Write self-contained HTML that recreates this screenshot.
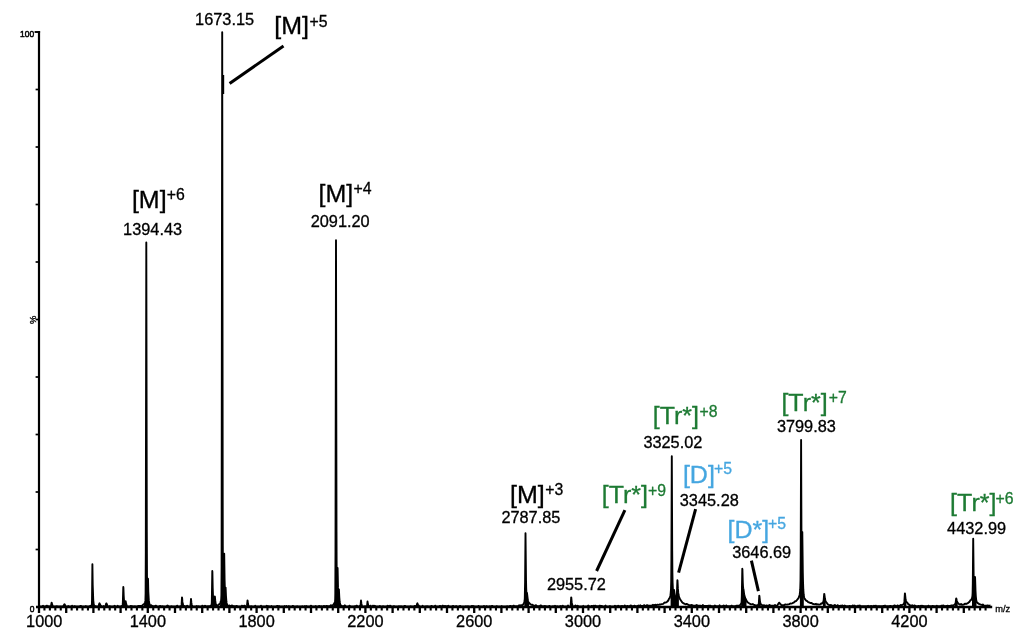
<!DOCTYPE html>
<html><head><meta charset="utf-8"><title>Mass spectrum</title>
<style>
html,body{margin:0;padding:0;background:#fff;}
svg{display:block;font-family:"Liberation Sans",sans-serif;}
</style></head><body>
<svg width="1024" height="643" viewBox="0 0 1024 643">
<rect width="1024" height="643" fill="#fff"/>
<g stroke="#000" fill="none">
<line x1="39" y1="31.1" x2="39" y2="608" stroke-width="2.2"/>
<line x1="34.6" y1="32" x2="40.1" y2="32" stroke-width="1.9"/>
<line x1="36" y1="607" x2="992.2" y2="607" stroke-width="2.3"/>
<line x1="39.00" y1="607.0" x2="39.00" y2="613.0" stroke-width="2.3"/>
<line x1="44.44" y1="607.0" x2="44.44" y2="610.5" stroke-width="2.1"/>
<line x1="49.88" y1="607.0" x2="49.88" y2="610.5" stroke-width="2.1"/>
<line x1="55.32" y1="607.0" x2="55.32" y2="610.5" stroke-width="2.1"/>
<line x1="60.76" y1="607.0" x2="60.76" y2="610.5" stroke-width="2.1"/>
<line x1="66.20" y1="607.0" x2="66.20" y2="613.0" stroke-width="2.3"/>
<line x1="71.64" y1="607.0" x2="71.64" y2="610.5" stroke-width="2.1"/>
<line x1="77.08" y1="607.0" x2="77.08" y2="610.5" stroke-width="2.1"/>
<line x1="82.52" y1="607.0" x2="82.52" y2="610.5" stroke-width="2.1"/>
<line x1="87.96" y1="607.0" x2="87.96" y2="610.5" stroke-width="2.1"/>
<line x1="93.40" y1="607.0" x2="93.40" y2="613.0" stroke-width="2.3"/>
<line x1="98.84" y1="607.0" x2="98.84" y2="610.5" stroke-width="2.1"/>
<line x1="104.28" y1="607.0" x2="104.28" y2="610.5" stroke-width="2.1"/>
<line x1="109.72" y1="607.0" x2="109.72" y2="610.5" stroke-width="2.1"/>
<line x1="115.16" y1="607.0" x2="115.16" y2="610.5" stroke-width="2.1"/>
<line x1="120.60" y1="607.0" x2="120.60" y2="613.0" stroke-width="2.3"/>
<line x1="126.04" y1="607.0" x2="126.04" y2="610.5" stroke-width="2.1"/>
<line x1="131.48" y1="607.0" x2="131.48" y2="610.5" stroke-width="2.1"/>
<line x1="136.92" y1="607.0" x2="136.92" y2="610.5" stroke-width="2.1"/>
<line x1="142.36" y1="607.0" x2="142.36" y2="610.5" stroke-width="2.1"/>
<line x1="147.80" y1="607.0" x2="147.80" y2="613.0" stroke-width="2.3"/>
<line x1="153.24" y1="607.0" x2="153.24" y2="610.5" stroke-width="2.1"/>
<line x1="158.68" y1="607.0" x2="158.68" y2="610.5" stroke-width="2.1"/>
<line x1="164.12" y1="607.0" x2="164.12" y2="610.5" stroke-width="2.1"/>
<line x1="169.56" y1="607.0" x2="169.56" y2="610.5" stroke-width="2.1"/>
<line x1="175.00" y1="607.0" x2="175.00" y2="613.0" stroke-width="2.3"/>
<line x1="180.44" y1="607.0" x2="180.44" y2="610.5" stroke-width="2.1"/>
<line x1="185.88" y1="607.0" x2="185.88" y2="610.5" stroke-width="2.1"/>
<line x1="191.32" y1="607.0" x2="191.32" y2="610.5" stroke-width="2.1"/>
<line x1="196.76" y1="607.0" x2="196.76" y2="610.5" stroke-width="2.1"/>
<line x1="202.20" y1="607.0" x2="202.20" y2="613.0" stroke-width="2.3"/>
<line x1="207.64" y1="607.0" x2="207.64" y2="610.5" stroke-width="2.1"/>
<line x1="213.08" y1="607.0" x2="213.08" y2="610.5" stroke-width="2.1"/>
<line x1="218.52" y1="607.0" x2="218.52" y2="610.5" stroke-width="2.1"/>
<line x1="223.96" y1="607.0" x2="223.96" y2="610.5" stroke-width="2.1"/>
<line x1="229.40" y1="607.0" x2="229.40" y2="613.0" stroke-width="2.3"/>
<line x1="234.84" y1="607.0" x2="234.84" y2="610.5" stroke-width="2.1"/>
<line x1="240.28" y1="607.0" x2="240.28" y2="610.5" stroke-width="2.1"/>
<line x1="245.72" y1="607.0" x2="245.72" y2="610.5" stroke-width="2.1"/>
<line x1="251.16" y1="607.0" x2="251.16" y2="610.5" stroke-width="2.1"/>
<line x1="256.60" y1="607.0" x2="256.60" y2="613.0" stroke-width="2.3"/>
<line x1="262.04" y1="607.0" x2="262.04" y2="610.5" stroke-width="2.1"/>
<line x1="267.48" y1="607.0" x2="267.48" y2="610.5" stroke-width="2.1"/>
<line x1="272.92" y1="607.0" x2="272.92" y2="610.5" stroke-width="2.1"/>
<line x1="278.36" y1="607.0" x2="278.36" y2="610.5" stroke-width="2.1"/>
<line x1="283.80" y1="607.0" x2="283.80" y2="613.0" stroke-width="2.3"/>
<line x1="289.24" y1="607.0" x2="289.24" y2="610.5" stroke-width="2.1"/>
<line x1="294.68" y1="607.0" x2="294.68" y2="610.5" stroke-width="2.1"/>
<line x1="300.12" y1="607.0" x2="300.12" y2="610.5" stroke-width="2.1"/>
<line x1="305.56" y1="607.0" x2="305.56" y2="610.5" stroke-width="2.1"/>
<line x1="311.00" y1="607.0" x2="311.00" y2="613.0" stroke-width="2.3"/>
<line x1="316.44" y1="607.0" x2="316.44" y2="610.5" stroke-width="2.1"/>
<line x1="321.88" y1="607.0" x2="321.88" y2="610.5" stroke-width="2.1"/>
<line x1="327.32" y1="607.0" x2="327.32" y2="610.5" stroke-width="2.1"/>
<line x1="332.76" y1="607.0" x2="332.76" y2="610.5" stroke-width="2.1"/>
<line x1="338.20" y1="607.0" x2="338.20" y2="613.0" stroke-width="2.3"/>
<line x1="343.64" y1="607.0" x2="343.64" y2="610.5" stroke-width="2.1"/>
<line x1="349.08" y1="607.0" x2="349.08" y2="610.5" stroke-width="2.1"/>
<line x1="354.52" y1="607.0" x2="354.52" y2="610.5" stroke-width="2.1"/>
<line x1="359.96" y1="607.0" x2="359.96" y2="610.5" stroke-width="2.1"/>
<line x1="365.40" y1="607.0" x2="365.40" y2="613.0" stroke-width="2.3"/>
<line x1="370.84" y1="607.0" x2="370.84" y2="610.5" stroke-width="2.1"/>
<line x1="376.28" y1="607.0" x2="376.28" y2="610.5" stroke-width="2.1"/>
<line x1="381.72" y1="607.0" x2="381.72" y2="610.5" stroke-width="2.1"/>
<line x1="387.16" y1="607.0" x2="387.16" y2="610.5" stroke-width="2.1"/>
<line x1="392.60" y1="607.0" x2="392.60" y2="613.0" stroke-width="2.3"/>
<line x1="398.04" y1="607.0" x2="398.04" y2="610.5" stroke-width="2.1"/>
<line x1="403.48" y1="607.0" x2="403.48" y2="610.5" stroke-width="2.1"/>
<line x1="408.92" y1="607.0" x2="408.92" y2="610.5" stroke-width="2.1"/>
<line x1="414.36" y1="607.0" x2="414.36" y2="610.5" stroke-width="2.1"/>
<line x1="419.80" y1="607.0" x2="419.80" y2="613.0" stroke-width="2.3"/>
<line x1="425.24" y1="607.0" x2="425.24" y2="610.5" stroke-width="2.1"/>
<line x1="430.68" y1="607.0" x2="430.68" y2="610.5" stroke-width="2.1"/>
<line x1="436.12" y1="607.0" x2="436.12" y2="610.5" stroke-width="2.1"/>
<line x1="441.56" y1="607.0" x2="441.56" y2="610.5" stroke-width="2.1"/>
<line x1="447.00" y1="607.0" x2="447.00" y2="613.0" stroke-width="2.3"/>
<line x1="452.44" y1="607.0" x2="452.44" y2="610.5" stroke-width="2.1"/>
<line x1="457.88" y1="607.0" x2="457.88" y2="610.5" stroke-width="2.1"/>
<line x1="463.32" y1="607.0" x2="463.32" y2="610.5" stroke-width="2.1"/>
<line x1="468.76" y1="607.0" x2="468.76" y2="610.5" stroke-width="2.1"/>
<line x1="474.20" y1="607.0" x2="474.20" y2="613.0" stroke-width="2.3"/>
<line x1="479.64" y1="607.0" x2="479.64" y2="610.5" stroke-width="2.1"/>
<line x1="485.08" y1="607.0" x2="485.08" y2="610.5" stroke-width="2.1"/>
<line x1="490.52" y1="607.0" x2="490.52" y2="610.5" stroke-width="2.1"/>
<line x1="495.96" y1="607.0" x2="495.96" y2="610.5" stroke-width="2.1"/>
<line x1="501.40" y1="607.0" x2="501.40" y2="613.0" stroke-width="2.3"/>
<line x1="506.84" y1="607.0" x2="506.84" y2="610.5" stroke-width="2.1"/>
<line x1="512.28" y1="607.0" x2="512.28" y2="610.5" stroke-width="2.1"/>
<line x1="517.72" y1="607.0" x2="517.72" y2="610.5" stroke-width="2.1"/>
<line x1="523.16" y1="607.0" x2="523.16" y2="610.5" stroke-width="2.1"/>
<line x1="528.60" y1="607.0" x2="528.60" y2="613.0" stroke-width="2.3"/>
<line x1="534.04" y1="607.0" x2="534.04" y2="610.5" stroke-width="2.1"/>
<line x1="539.48" y1="607.0" x2="539.48" y2="610.5" stroke-width="2.1"/>
<line x1="544.92" y1="607.0" x2="544.92" y2="610.5" stroke-width="2.1"/>
<line x1="550.36" y1="607.0" x2="550.36" y2="610.5" stroke-width="2.1"/>
<line x1="555.80" y1="607.0" x2="555.80" y2="613.0" stroke-width="2.3"/>
<line x1="561.24" y1="607.0" x2="561.24" y2="610.5" stroke-width="2.1"/>
<line x1="566.68" y1="607.0" x2="566.68" y2="610.5" stroke-width="2.1"/>
<line x1="572.12" y1="607.0" x2="572.12" y2="610.5" stroke-width="2.1"/>
<line x1="577.56" y1="607.0" x2="577.56" y2="610.5" stroke-width="2.1"/>
<line x1="583.00" y1="607.0" x2="583.00" y2="613.0" stroke-width="2.3"/>
<line x1="588.44" y1="607.0" x2="588.44" y2="610.5" stroke-width="2.1"/>
<line x1="593.88" y1="607.0" x2="593.88" y2="610.5" stroke-width="2.1"/>
<line x1="599.32" y1="607.0" x2="599.32" y2="610.5" stroke-width="2.1"/>
<line x1="604.76" y1="607.0" x2="604.76" y2="610.5" stroke-width="2.1"/>
<line x1="610.20" y1="607.0" x2="610.20" y2="613.0" stroke-width="2.3"/>
<line x1="615.64" y1="607.0" x2="615.64" y2="610.5" stroke-width="2.1"/>
<line x1="621.08" y1="607.0" x2="621.08" y2="610.5" stroke-width="2.1"/>
<line x1="626.52" y1="607.0" x2="626.52" y2="610.5" stroke-width="2.1"/>
<line x1="631.96" y1="607.0" x2="631.96" y2="610.5" stroke-width="2.1"/>
<line x1="637.40" y1="607.0" x2="637.40" y2="613.0" stroke-width="2.3"/>
<line x1="642.84" y1="607.0" x2="642.84" y2="610.5" stroke-width="2.1"/>
<line x1="648.28" y1="607.0" x2="648.28" y2="610.5" stroke-width="2.1"/>
<line x1="653.72" y1="607.0" x2="653.72" y2="610.5" stroke-width="2.1"/>
<line x1="659.16" y1="607.0" x2="659.16" y2="610.5" stroke-width="2.1"/>
<line x1="664.60" y1="607.0" x2="664.60" y2="613.0" stroke-width="2.3"/>
<line x1="670.04" y1="607.0" x2="670.04" y2="610.5" stroke-width="2.1"/>
<line x1="675.48" y1="607.0" x2="675.48" y2="610.5" stroke-width="2.1"/>
<line x1="680.92" y1="607.0" x2="680.92" y2="610.5" stroke-width="2.1"/>
<line x1="686.36" y1="607.0" x2="686.36" y2="610.5" stroke-width="2.1"/>
<line x1="691.80" y1="607.0" x2="691.80" y2="613.0" stroke-width="2.3"/>
<line x1="697.24" y1="607.0" x2="697.24" y2="610.5" stroke-width="2.1"/>
<line x1="702.68" y1="607.0" x2="702.68" y2="610.5" stroke-width="2.1"/>
<line x1="708.12" y1="607.0" x2="708.12" y2="610.5" stroke-width="2.1"/>
<line x1="713.56" y1="607.0" x2="713.56" y2="610.5" stroke-width="2.1"/>
<line x1="719.00" y1="607.0" x2="719.00" y2="613.0" stroke-width="2.3"/>
<line x1="724.44" y1="607.0" x2="724.44" y2="610.5" stroke-width="2.1"/>
<line x1="729.88" y1="607.0" x2="729.88" y2="610.5" stroke-width="2.1"/>
<line x1="735.32" y1="607.0" x2="735.32" y2="610.5" stroke-width="2.1"/>
<line x1="740.76" y1="607.0" x2="740.76" y2="610.5" stroke-width="2.1"/>
<line x1="746.20" y1="607.0" x2="746.20" y2="613.0" stroke-width="2.3"/>
<line x1="751.64" y1="607.0" x2="751.64" y2="610.5" stroke-width="2.1"/>
<line x1="757.08" y1="607.0" x2="757.08" y2="610.5" stroke-width="2.1"/>
<line x1="762.52" y1="607.0" x2="762.52" y2="610.5" stroke-width="2.1"/>
<line x1="767.96" y1="607.0" x2="767.96" y2="610.5" stroke-width="2.1"/>
<line x1="773.40" y1="607.0" x2="773.40" y2="613.0" stroke-width="2.3"/>
<line x1="778.84" y1="607.0" x2="778.84" y2="610.5" stroke-width="2.1"/>
<line x1="784.28" y1="607.0" x2="784.28" y2="610.5" stroke-width="2.1"/>
<line x1="789.72" y1="607.0" x2="789.72" y2="610.5" stroke-width="2.1"/>
<line x1="795.16" y1="607.0" x2="795.16" y2="610.5" stroke-width="2.1"/>
<line x1="800.60" y1="607.0" x2="800.60" y2="613.0" stroke-width="2.3"/>
<line x1="806.04" y1="607.0" x2="806.04" y2="610.5" stroke-width="2.1"/>
<line x1="811.48" y1="607.0" x2="811.48" y2="610.5" stroke-width="2.1"/>
<line x1="816.92" y1="607.0" x2="816.92" y2="610.5" stroke-width="2.1"/>
<line x1="822.36" y1="607.0" x2="822.36" y2="610.5" stroke-width="2.1"/>
<line x1="827.80" y1="607.0" x2="827.80" y2="613.0" stroke-width="2.3"/>
<line x1="833.24" y1="607.0" x2="833.24" y2="610.5" stroke-width="2.1"/>
<line x1="838.68" y1="607.0" x2="838.68" y2="610.5" stroke-width="2.1"/>
<line x1="844.12" y1="607.0" x2="844.12" y2="610.5" stroke-width="2.1"/>
<line x1="849.56" y1="607.0" x2="849.56" y2="610.5" stroke-width="2.1"/>
<line x1="855.00" y1="607.0" x2="855.00" y2="613.0" stroke-width="2.3"/>
<line x1="860.44" y1="607.0" x2="860.44" y2="610.5" stroke-width="2.1"/>
<line x1="865.88" y1="607.0" x2="865.88" y2="610.5" stroke-width="2.1"/>
<line x1="871.32" y1="607.0" x2="871.32" y2="610.5" stroke-width="2.1"/>
<line x1="876.76" y1="607.0" x2="876.76" y2="610.5" stroke-width="2.1"/>
<line x1="882.20" y1="607.0" x2="882.20" y2="613.0" stroke-width="2.3"/>
<line x1="887.64" y1="607.0" x2="887.64" y2="610.5" stroke-width="2.1"/>
<line x1="893.08" y1="607.0" x2="893.08" y2="610.5" stroke-width="2.1"/>
<line x1="898.52" y1="607.0" x2="898.52" y2="610.5" stroke-width="2.1"/>
<line x1="903.96" y1="607.0" x2="903.96" y2="610.5" stroke-width="2.1"/>
<line x1="909.40" y1="607.0" x2="909.40" y2="613.0" stroke-width="2.3"/>
<line x1="914.84" y1="607.0" x2="914.84" y2="610.5" stroke-width="2.1"/>
<line x1="920.28" y1="607.0" x2="920.28" y2="610.5" stroke-width="2.1"/>
<line x1="925.72" y1="607.0" x2="925.72" y2="610.5" stroke-width="2.1"/>
<line x1="931.16" y1="607.0" x2="931.16" y2="610.5" stroke-width="2.1"/>
<line x1="936.60" y1="607.0" x2="936.60" y2="613.0" stroke-width="2.3"/>
<line x1="942.04" y1="607.0" x2="942.04" y2="610.5" stroke-width="2.1"/>
<line x1="947.48" y1="607.0" x2="947.48" y2="610.5" stroke-width="2.1"/>
<line x1="952.92" y1="607.0" x2="952.92" y2="610.5" stroke-width="2.1"/>
<line x1="958.36" y1="607.0" x2="958.36" y2="610.5" stroke-width="2.1"/>
<line x1="963.80" y1="607.0" x2="963.80" y2="613.0" stroke-width="2.3"/>
<line x1="969.24" y1="607.0" x2="969.24" y2="610.5" stroke-width="2.1"/>
<line x1="974.68" y1="607.0" x2="974.68" y2="610.5" stroke-width="2.1"/>
<line x1="980.12" y1="607.0" x2="980.12" y2="610.5" stroke-width="2.1"/>
<line x1="985.56" y1="607.0" x2="985.56" y2="610.5" stroke-width="2.1"/>
<line x1="35.6" y1="549.5" x2="39" y2="549.5" stroke-width="1.7"/>
<line x1="35.6" y1="492.0" x2="39" y2="492.0" stroke-width="1.7"/>
<line x1="35.6" y1="434.5" x2="39" y2="434.5" stroke-width="1.7"/>
<line x1="35.6" y1="377.0" x2="39" y2="377.0" stroke-width="1.7"/>
<line x1="35.6" y1="319.5" x2="39" y2="319.5" stroke-width="1.7"/>
<line x1="35.6" y1="262.0" x2="39" y2="262.0" stroke-width="1.7"/>
<line x1="35.6" y1="204.5" x2="39" y2="204.5" stroke-width="1.7"/>
<line x1="35.6" y1="147.0" x2="39" y2="147.0" stroke-width="1.7"/>
<line x1="35.6" y1="89.5" x2="39" y2="89.5" stroke-width="1.7"/>
</g>
<polyline fill="none" stroke="#000" stroke-width="1.9" stroke-linejoin="round" points="39.00,606.49 42.10,606.47 42.40,606.33 42.80,605.90 43.00,605.81 43.80,606.46 45.30,606.47 45.80,606.34 46.50,605.78 46.80,605.67 48.00,606.43 48.30,606.44 48.80,606.19 49.50,606.47 50.70,606.43 51.00,606.00 51.50,603.12 51.60,602.80 51.70,602.79 52.20,604.69 52.60,605.73 53.10,606.30 53.60,606.47 55.60,606.47 56.70,606.13 58.00,606.48 59.90,606.48 60.90,606.32 61.90,606.48 62.80,606.45 63.30,606.05 64.30,604.40 64.50,604.27 64.70,604.44 65.30,605.69 65.60,606.10 66.00,606.35 66.70,606.47 67.50,606.46 68.20,606.01 68.70,606.38 69.00,606.48 71.20,606.47 71.50,606.36 72.10,605.76 72.30,605.83 72.80,606.37 73.20,606.47 73.70,606.39 74.60,606.05 76.00,606.47 79.10,606.47 79.60,606.34 80.50,605.83 80.80,605.91 81.60,606.39 82.20,606.48 85.10,606.46 85.80,606.04 86.60,606.46 89.20,606.42 89.60,606.31 90.30,605.80 91.00,606.20 91.60,606.12 91.80,605.62 91.90,604.23 92.00,600.45 92.40,564.30 92.70,584.76 93.20,598.84 93.30,600.51 93.80,605.01 94.00,606.02 94.20,606.29 94.70,606.33 95.50,606.05 96.50,606.43 98.20,606.38 98.60,605.90 99.20,603.86 99.50,603.34 99.70,603.56 100.40,605.35 100.90,605.62 101.50,606.31 101.90,606.45 102.90,606.44 103.60,605.98 104.40,606.45 105.00,606.44 105.30,606.32 105.60,605.80 106.10,603.85 106.40,603.40 106.70,603.75 107.50,605.81 107.90,606.23 108.40,606.40 108.90,606.36 109.70,606.05 110.90,606.45 113.30,606.45 113.70,606.35 114.30,605.90 114.60,605.80 115.40,606.33 116.00,606.46 117.00,606.39 117.70,605.81 117.90,605.86 118.40,606.33 118.80,606.44 120.80,606.41 121.80,605.98 122.30,606.11 122.50,606.06 122.70,605.13 122.80,603.67 123.30,587.00 123.40,587.57 123.70,595.49 124.10,601.79 124.40,604.14 124.70,605.40 124.90,605.87 125.00,605.86 125.10,605.58 125.20,604.95 125.60,601.30 125.70,601.36 126.10,603.59 126.60,605.35 127.10,606.19 127.30,606.33 127.70,606.41 129.80,606.39 130.90,605.90 131.90,606.36 132.70,606.19 133.70,606.38 134.30,606.34 134.90,606.13 135.60,606.33 137.00,606.29 137.80,606.21 138.80,605.90 140.10,606.04 141.50,605.83 142.50,605.44 143.40,604.45 144.30,603.93 144.70,603.30 145.10,602.26 145.40,600.64 145.60,593.32 145.80,551.65 146.30,242.50 146.80,532.26 147.00,576.52 147.20,589.73 147.50,595.39 147.60,594.80 147.70,591.81 148.00,578.70 148.30,591.49 148.80,600.14 149.40,604.08 149.60,604.78 149.90,605.09 150.90,605.13 151.90,605.82 152.60,606.02 154.50,606.17 154.90,606.05 155.50,605.69 155.80,605.64 156.80,606.22 157.60,606.34 159.10,606.35 160.10,605.96 161.20,606.38 162.50,606.12 163.60,606.40 166.00,606.42 166.60,606.26 167.20,605.71 167.50,605.56 167.80,605.69 168.50,606.30 169.10,606.44 170.50,606.44 171.50,606.24 172.50,606.45 176.00,606.44 176.40,606.32 177.10,605.72 177.30,605.77 177.90,606.33 178.20,606.43 179.90,606.43 180.70,606.10 181.30,606.27 181.50,605.67 181.60,604.67 182.00,597.40 182.10,597.82 182.40,601.63 182.80,604.06 183.00,604.91 183.40,605.98 183.60,606.28 183.80,606.40 184.10,606.39 184.70,605.99 185.30,606.42 186.00,606.41 186.30,606.30 187.10,605.75 187.30,605.81 187.90,606.29 188.30,606.42 189.70,606.39 190.30,606.14 190.50,605.55 190.60,604.70 191.00,598.90 191.40,602.93 191.80,604.98 192.00,605.54 192.30,606.01 192.70,606.39 195.80,606.43 196.10,606.33 196.60,605.97 197.20,606.38 198.30,606.22 199.60,606.42 201.30,606.42 201.70,606.28 202.10,605.74 202.30,605.64 202.80,606.26 203.20,606.40 203.90,606.30 204.90,605.72 205.20,605.80 205.90,606.25 206.40,606.35 208.00,606.13 209.00,606.27 209.90,606.23 210.20,606.10 210.80,605.43 211.40,605.90 211.60,605.46 211.80,602.06 212.30,571.00 212.40,572.40 212.70,587.66 213.10,598.39 213.40,602.28 213.90,605.38 214.00,605.60 214.10,605.61 214.30,604.67 214.80,596.50 214.90,596.68 215.20,600.18 215.60,603.10 215.90,604.40 216.40,605.52 216.80,605.68 217.60,605.48 218.00,605.18 218.50,604.38 218.70,604.38 219.00,604.55 219.30,604.43 220.00,603.50 220.50,602.33 220.90,600.88 221.20,599.32 221.40,595.16 221.60,566.04 222.20,32.20 222.70,500.96 222.80,546.06 223.00,580.35 223.30,591.33 223.60,594.95 223.70,593.88 224.20,553.60 224.60,580.30 225.00,593.13 225.10,594.33 225.20,593.83 225.50,587.95 225.60,587.60 226.00,596.27 226.40,601.48 226.60,602.95 226.90,604.19 227.20,605.04 227.50,605.40 228.70,605.77 229.50,605.51 230.10,605.95 230.60,606.05 231.10,605.96 231.80,605.49 232.10,605.42 233.20,606.15 234.00,606.28 235.90,606.31 236.70,605.84 237.40,606.30 238.10,606.38 241.20,606.39 241.50,606.22 241.80,605.75 242.00,605.62 242.50,606.29 242.70,606.39 243.10,606.39 243.50,606.28 244.20,605.73 244.50,605.66 245.50,606.32 246.50,606.37 246.80,606.16 247.00,605.44 247.50,600.50 247.60,600.72 248.00,603.82 248.40,605.44 249.00,606.26 249.60,606.43 251.30,606.23 252.50,606.44 254.30,606.45 254.60,606.33 255.20,605.73 255.80,606.34 256.40,606.46 260.10,606.45 260.40,606.32 261.00,605.76 261.20,605.83 261.80,606.40 262.40,606.47 265.50,606.45 265.90,606.33 266.80,605.80 267.80,606.30 268.60,606.28 270.10,606.47 270.80,606.40 271.40,605.94 271.90,606.36 272.30,606.47 276.00,606.45 277.30,605.95 278.40,606.41 278.60,606.38 279.10,605.97 279.70,606.43 280.10,606.48 283.80,606.47 284.10,606.39 284.60,605.99 285.10,606.39 285.60,606.47 285.90,606.40 286.40,605.93 286.60,606.01 286.90,606.35 287.20,606.47 287.90,606.43 288.80,606.00 289.70,606.44 291.70,606.47 292.20,606.37 292.90,605.86 293.60,606.38 294.00,606.47 296.30,606.47 297.20,606.21 298.10,606.47 301.40,606.46 302.30,606.21 303.00,606.45 304.10,606.46 304.40,606.38 304.90,605.96 305.50,606.45 305.90,606.40 306.50,605.97 307.00,606.34 307.30,606.45 309.60,606.46 310.20,606.35 310.90,605.76 311.10,605.71 311.90,606.34 312.40,606.45 315.00,606.43 315.70,606.00 316.20,606.37 316.60,606.43 318.20,606.39 319.20,605.99 320.20,606.35 321.30,606.08 322.20,606.33 322.70,606.34 324.00,605.90 325.30,606.30 325.80,606.26 326.70,606.02 328.10,606.20 330.10,605.97 330.70,605.30 330.80,605.29 331.20,605.66 331.40,605.72 332.10,605.51 332.80,605.17 333.40,604.70 333.80,604.18 334.50,603.00 334.90,602.00 335.10,600.85 335.20,598.92 335.30,593.64 335.50,551.80 336.00,240.20 336.50,531.58 336.60,560.38 336.80,584.21 336.90,588.79 337.00,591.12 337.10,591.49 337.60,568.00 338.00,587.38 338.40,595.25 338.50,595.12 338.80,589.78 338.90,589.40 339.30,597.33 339.70,602.01 339.90,603.30 340.20,604.39 340.50,605.14 340.80,605.47 342.00,605.85 343.60,606.08 344.00,605.98 344.70,605.32 344.90,605.39 345.50,606.09 345.90,606.24 348.50,606.33 348.80,606.25 349.40,605.79 349.60,605.75 350.50,606.35 352.30,606.40 353.80,606.39 354.90,606.14 355.70,606.22 356.60,605.63 357.70,606.38 359.20,606.38 360.00,605.78 360.40,605.76 360.50,605.56 361.00,600.50 361.40,603.69 361.80,605.28 362.00,605.71 362.40,606.21 362.60,606.37 363.00,606.43 364.20,606.43 365.10,606.21 366.10,606.42 366.70,606.42 366.90,606.30 367.10,605.49 367.50,601.50 367.90,604.14 368.30,605.48 368.50,605.84 368.90,606.26 369.40,606.45 369.90,606.35 370.50,605.62 370.70,605.71 371.20,606.36 371.70,606.46 372.40,606.39 373.00,605.73 373.20,605.64 373.80,606.28 374.00,606.38 374.30,606.29 374.90,605.79 375.10,605.85 375.70,606.38 376.20,606.47 378.70,606.46 379.00,606.38 379.70,605.97 379.90,606.00 380.50,606.39 380.90,606.47 382.00,606.44 383.10,606.11 384.30,606.45 386.10,606.47 386.70,606.32 387.60,605.74 387.90,605.83 388.60,606.33 389.00,606.40 389.30,606.32 390.00,605.73 390.30,605.64 391.20,606.32 391.90,606.47 393.30,606.46 393.50,606.38 394.00,605.91 394.60,606.40 394.90,606.47 397.90,606.47 399.00,606.20 399.90,606.45 401.00,606.28 402.00,606.46 403.30,606.47 403.80,606.37 404.70,605.83 405.00,605.91 405.70,606.38 406.20,606.47 409.50,606.47 410.70,606.27 411.70,606.46 413.60,606.46 414.00,606.35 414.60,605.88 414.80,605.84 415.60,606.38 416.10,606.45 416.40,606.35 416.60,606.07 417.20,603.53 417.40,603.26 418.00,605.01 418.20,605.36 418.80,605.50 419.50,606.32 420.10,606.47 422.00,606.44 422.70,605.81 423.20,606.37 423.50,606.47 425.40,606.47 426.10,606.25 426.90,606.45 427.60,606.17 428.40,606.46 430.00,606.47 430.50,606.38 431.20,605.97 431.50,605.90 432.60,606.43 434.00,606.47 434.50,606.29 435.10,605.66 435.30,605.73 435.80,606.31 436.20,606.46 438.90,606.45 440.00,605.91 440.80,606.37 441.30,606.46 441.80,606.32 442.50,605.70 442.70,605.62 442.90,605.68 443.70,606.30 444.00,606.28 444.90,605.92 445.70,606.22 446.60,606.09 447.40,606.29 448.10,605.81 448.30,605.77 449.10,606.37 449.80,606.47 451.80,606.43 453.10,605.91 454.20,606.41 455.30,606.47 455.60,606.39 456.10,605.89 456.60,606.37 457.10,606.47 458.90,606.43 460.10,606.01 461.10,606.38 461.70,606.46 465.10,606.47 465.90,606.22 466.40,606.44 466.70,606.46 467.90,606.17 469.00,606.45 470.60,606.46 471.10,606.38 471.70,605.95 471.90,605.91 472.50,606.19 473.50,606.03 474.80,606.45 477.50,606.46 478.00,606.36 478.40,605.97 478.60,605.88 479.10,606.33 479.50,606.45 483.10,606.44 484.20,605.99 485.00,606.36 485.40,606.44 485.90,606.40 486.60,606.06 487.60,606.44 488.90,606.44 489.90,606.28 490.90,606.42 491.30,606.36 492.00,605.88 492.20,605.84 493.00,606.34 493.50,606.44 495.90,606.43 496.80,606.06 497.70,606.42 500.80,606.42 501.20,606.32 501.70,605.97 502.50,606.40 505.60,606.39 507.30,606.22 508.80,606.33 510.10,605.91 511.30,606.28 512.50,606.28 512.90,606.14 513.40,605.65 513.60,605.59 514.20,606.08 514.50,606.21 517.40,606.09 518.30,605.96 519.20,605.23 519.80,605.63 520.10,605.71 521.10,605.15 521.80,605.28 522.20,605.19 522.80,604.86 523.20,604.47 524.30,602.32 524.60,600.78 524.80,598.11 525.10,581.86 525.50,533.30 526.00,579.68 526.20,588.34 526.40,592.89 526.50,593.79 526.60,593.98 526.90,592.96 527.00,593.00 527.70,598.85 528.00,600.49 528.40,601.81 528.80,602.60 529.40,603.32 530.40,604.23 531.30,604.80 531.70,604.89 532.40,604.59 533.30,605.51 534.80,605.84 535.30,605.76 535.80,605.24 536.00,605.19 536.80,606.00 538.80,606.18 539.70,606.09 540.50,605.46 540.80,605.36 541.10,605.51 541.80,606.12 542.70,606.30 543.80,606.28 544.80,605.96 545.80,606.32 548.30,606.36 548.70,606.26 549.30,605.83 549.50,605.89 550.00,606.29 550.30,606.37 552.00,606.38 552.90,606.18 553.70,606.35 554.10,606.24 555.00,605.75 556.30,606.33 557.30,606.24 558.30,606.39 559.60,606.40 559.90,606.27 560.30,605.89 560.90,606.36 561.30,606.41 561.80,606.30 562.60,605.74 562.80,605.79 563.40,606.27 563.80,606.39 566.80,606.41 567.30,606.26 567.80,605.63 568.00,605.54 568.80,606.33 570.30,606.34 570.50,606.17 570.70,605.17 571.20,597.40 571.30,597.67 571.70,602.16 572.10,604.37 572.80,606.02 573.10,606.31 573.50,606.39 574.60,606.31 575.50,605.53 575.70,605.59 576.20,606.11 576.50,606.26 576.80,606.20 577.40,605.81 577.70,605.74 578.80,606.33 579.70,606.41 582.50,606.40 582.70,606.33 583.20,605.84 583.70,606.34 583.90,606.40 587.00,606.39 587.50,606.21 588.10,605.64 588.30,605.56 588.50,605.62 589.30,606.30 590.00,606.40 590.80,606.34 591.70,605.97 592.80,606.31 593.10,606.17 593.70,605.66 593.90,605.72 594.40,606.20 594.70,606.30 595.00,606.13 595.40,605.69 595.60,605.63 596.20,606.22 596.50,606.32 597.50,606.11 598.70,606.30 599.80,605.65 600.80,606.18 601.70,605.90 602.80,606.34 604.20,606.37 604.70,606.24 605.40,605.57 605.60,605.68 606.10,606.24 606.70,606.37 608.60,606.33 609.70,606.05 611.00,606.34 614.00,606.33 614.40,606.21 615.00,605.76 615.80,606.29 617.20,606.32 617.50,606.24 618.10,605.73 618.60,606.20 618.90,606.30 621.00,606.28 621.90,605.92 622.70,606.26 623.80,606.28 624.20,606.18 624.80,605.50 625.00,605.62 625.40,606.15 625.60,606.24 626.80,606.24 627.40,605.98 628.00,606.23 629.10,606.23 629.80,606.09 630.50,605.55 630.80,605.43 631.10,605.54 631.70,606.01 632.20,606.17 633.40,606.13 634.50,605.70 635.60,606.10 636.60,606.13 637.40,606.06 638.40,605.53 639.20,605.97 639.50,606.02 639.70,605.92 640.20,605.28 640.90,605.99 642.90,605.97 643.40,605.77 644.10,605.10 644.30,605.17 644.90,605.76 645.50,605.89 646.20,605.73 647.10,605.14 647.40,605.19 648.20,605.68 648.90,605.74 650.30,605.65 652.00,605.34 653.00,604.82 654.10,605.27 654.40,605.22 655.20,604.73 656.40,605.12 656.90,605.06 657.50,604.67 658.10,604.88 658.60,604.84 659.10,604.71 659.70,604.41 660.70,604.44 663.10,603.80 663.70,603.48 664.40,602.71 664.70,602.54 665.40,602.67 665.90,602.55 667.10,601.72 668.10,600.72 668.50,600.10 669.10,598.53 669.50,598.21 669.80,597.68 670.30,595.92 670.60,594.12 671.00,589.06 671.20,581.88 671.40,558.76 671.80,456.30 672.20,550.53 672.40,572.71 672.60,582.82 672.90,589.38 673.30,593.23 673.40,593.35 673.50,593.08 673.90,590.29 674.00,590.00 674.10,590.10 674.90,596.03 675.20,597.13 675.50,597.64 675.90,597.83 676.30,597.55 676.50,597.16 676.70,596.20 676.90,593.51 677.40,580.20 677.50,580.54 677.90,588.67 678.20,592.40 678.60,595.05 679.10,597.14 680.10,599.25 682.10,602.22 683.10,603.12 684.70,603.95 685.80,604.26 686.70,603.95 687.00,603.94 688.00,604.71 688.60,604.94 690.90,605.26 691.90,605.01 692.90,605.45 694.90,605.61 695.70,605.58 696.50,605.07 696.70,605.04 697.50,605.62 697.90,605.75 699.20,605.80 700.40,605.62 701.40,605.86 702.00,605.91 702.30,605.80 702.70,605.18 702.90,605.08 703.50,605.89 704.10,605.98 707.50,606.03 708.80,605.64 709.60,605.93 710.30,605.61 711.10,606.08 713.70,606.13 714.20,606.02 714.90,605.50 715.90,606.12 718.70,606.16 719.10,606.00 719.60,605.29 720.10,605.99 720.50,606.17 722.60,606.13 723.60,605.53 723.80,605.57 724.60,606.11 725.40,606.16 725.70,606.04 726.30,605.37 726.50,605.49 726.90,606.01 727.20,606.15 730.50,606.14 731.00,606.08 731.60,605.63 732.30,606.08 733.60,606.08 735.60,605.98 736.80,605.69 738.10,605.73 739.60,605.37 740.20,604.92 741.30,603.29 741.50,602.56 741.60,601.56 741.80,596.27 742.30,568.80 742.40,569.02 742.80,582.78 743.00,586.49 743.20,588.21 743.60,590.05 744.10,594.14 744.30,595.11 745.40,598.67 745.90,599.36 747.20,601.88 747.60,602.43 748.30,602.67 750.60,604.19 751.70,604.35 752.70,604.03 753.70,604.83 754.10,604.95 754.70,604.86 755.20,605.30 755.50,605.44 756.20,605.49 756.90,605.41 758.20,604.90 758.60,604.47 758.80,603.37 759.30,595.60 759.40,595.80 759.90,600.81 760.20,602.52 760.40,603.16 760.80,604.05 761.20,604.54 762.10,605.09 763.20,605.47 763.60,605.48 764.10,605.11 764.60,605.59 764.90,605.72 766.00,605.77 766.80,605.49 767.40,605.78 768.00,605.82 768.50,605.69 769.40,604.96 769.70,605.06 770.30,605.62 770.80,605.79 774.00,605.71 774.30,605.59 774.80,605.07 775.00,605.02 775.70,605.59 776.70,605.58 777.20,605.41 777.60,605.07 778.70,603.13 779.10,602.76 779.30,602.80 779.50,602.97 780.10,603.87 780.70,604.27 781.20,604.98 781.40,605.13 781.80,605.21 784.20,605.01 785.50,604.51 786.50,604.66 787.40,604.55 789.30,604.14 790.30,603.53 791.10,603.62 792.00,603.37 794.00,602.47 795.00,601.27 795.20,601.19 795.80,601.24 796.20,601.00 798.50,598.08 799.10,596.77 799.60,595.02 799.90,593.24 800.20,589.94 800.50,580.54 800.70,555.61 801.10,439.90 801.50,547.03 801.70,568.18 801.80,569.81 801.90,566.15 802.30,532.00 802.80,571.92 803.00,581.31 803.30,589.66 803.70,594.73 804.10,597.35 804.40,598.11 805.00,599.19 805.60,599.99 806.40,600.82 806.70,601.01 807.20,600.94 807.80,601.85 808.30,602.22 809.40,602.35 810.10,602.95 810.40,603.09 810.70,603.07 811.20,602.85 811.50,602.89 812.40,603.74 813.10,604.03 815.10,604.37 815.40,604.27 815.80,603.85 816.00,603.80 816.60,604.47 817.00,604.59 817.40,604.53 817.90,604.23 818.40,604.54 818.70,604.61 819.70,604.54 820.40,604.38 820.70,604.15 821.30,603.35 821.90,603.56 822.30,603.33 823.00,602.42 823.40,601.56 823.70,599.83 824.20,593.90 824.30,593.98 825.00,599.08 825.40,600.55 826.00,602.00 826.60,602.57 827.30,603.84 828.20,604.56 829.10,604.98 830.10,605.25 830.40,605.24 831.00,604.97 831.70,605.48 832.10,605.60 833.70,605.70 834.00,605.58 834.80,604.94 835.10,605.07 835.80,605.75 836.30,605.90 837.00,605.86 837.50,605.23 837.70,605.12 838.20,605.80 838.60,605.99 839.80,605.99 840.90,605.64 841.80,605.79 842.50,605.45 843.40,606.03 843.80,606.00 844.70,605.51 845.80,606.09 846.70,606.17 848.50,606.18 849.70,606.00 850.70,606.19 851.60,606.20 852.00,606.05 852.70,605.45 852.90,605.51 853.60,606.10 853.90,606.04 854.40,605.61 854.60,605.54 855.50,606.18 856.20,606.26 857.30,606.20 858.10,605.65 858.30,605.71 858.80,606.13 859.00,606.18 859.20,606.08 859.60,605.57 859.80,605.45 860.50,606.20 861.00,606.29 862.50,606.11 863.80,606.30 866.80,606.30 867.30,606.19 868.10,605.82 869.40,606.30 870.40,606.28 871.10,605.89 871.90,606.30 872.90,606.32 873.30,606.22 873.90,605.76 874.10,605.81 874.60,606.23 874.90,606.28 875.20,606.14 875.70,605.67 875.90,605.73 876.40,606.22 876.70,606.32 878.30,606.32 879.00,606.04 879.70,606.32 881.80,606.32 882.40,606.26 883.40,605.86 884.50,606.17 885.00,605.55 885.20,605.69 885.50,606.17 885.80,606.31 887.30,606.15 888.20,606.29 889.00,606.28 890.40,605.89 891.50,606.21 892.60,606.25 893.50,606.09 894.20,605.50 894.50,605.36 894.80,605.47 895.40,605.97 895.80,606.11 896.80,606.07 897.50,605.43 897.70,605.49 898.10,605.89 898.60,605.97 899.70,605.78 900.70,604.97 901.40,605.27 901.80,605.21 903.40,604.24 904.00,603.45 904.20,602.79 904.40,601.16 904.90,593.40 905.00,593.54 905.60,599.56 905.90,600.96 906.20,601.68 906.60,602.26 907.20,602.42 907.90,603.74 908.60,604.43 909.80,605.16 911.30,605.64 911.70,605.63 912.20,605.24 913.00,605.89 913.50,605.85 914.50,605.44 915.50,606.00 916.20,606.14 917.60,606.16 918.60,605.85 919.60,606.19 920.10,606.22 920.40,606.10 921.00,605.63 921.20,605.68 921.80,606.13 922.00,606.11 922.70,605.74 923.70,606.26 926.90,606.29 927.60,606.20 928.30,605.61 929.10,606.25 930.90,606.29 931.80,606.24 932.70,605.95 933.80,606.26 936.00,606.26 936.30,606.18 936.90,605.65 937.60,606.21 938.50,606.24 940.40,606.19 940.80,606.07 941.50,605.65 942.40,605.86 943.30,605.47 943.60,605.56 944.30,606.01 945.00,606.12 946.30,606.05 947.40,605.78 948.60,605.95 950.10,605.86 950.60,605.75 951.50,605.34 952.20,605.49 952.60,605.47 953.50,605.21 954.30,604.82 955.00,604.27 955.40,603.73 955.70,602.56 956.10,598.90 956.20,598.40 956.30,598.40 956.80,600.78 957.30,602.14 958.10,603.31 959.30,604.26 960.00,604.56 960.50,604.64 960.70,604.52 961.00,604.03 961.20,603.94 961.70,604.70 962.30,604.77 963.90,604.51 964.90,603.64 965.10,603.63 965.80,603.95 966.40,603.83 967.80,603.15 969.00,602.31 969.50,601.76 970.30,600.42 971.00,599.98 971.30,599.66 971.70,598.98 972.00,598.21 972.40,596.21 972.60,593.35 972.80,583.79 973.20,538.80 973.70,581.53 974.00,591.06 974.30,594.80 974.40,594.91 974.50,594.06 974.60,591.75 975.00,577.00 975.10,577.96 975.50,590.58 975.80,596.10 976.20,599.82 976.50,601.43 976.80,602.31 977.40,602.92 979.40,604.12 981.50,604.85 982.40,605.00 982.90,604.55 983.00,604.55 983.50,605.19 983.90,605.34 986.40,605.63 987.70,605.37 988.60,605.77 989.10,605.85 989.90,605.52 990.30,605.81"/>
<g stroke="#000" stroke-width="1.5" fill="none"><clipPath id="pk"><rect x="91.20" y="0" width="2.70" height="620"/><rect x="122.10" y="0" width="2.70" height="620"/><rect x="145.10" y="0" width="2.70" height="620"/><rect x="146.80" y="0" width="2.70" height="620"/><rect x="180.80" y="0" width="2.70" height="620"/><rect x="211.10" y="0" width="2.70" height="620"/><rect x="213.60" y="0" width="2.70" height="620"/><rect x="221.00" y="0" width="2.70" height="620"/><rect x="223.00" y="0" width="2.70" height="620"/><rect x="224.40" y="0" width="2.70" height="620"/><rect x="334.80" y="0" width="2.70" height="620"/><rect x="336.40" y="0" width="2.70" height="620"/><rect x="337.70" y="0" width="2.70" height="620"/><rect x="524.30" y="0" width="2.70" height="620"/><rect x="525.80" y="0" width="2.70" height="620"/><rect x="570.00" y="0" width="2.70" height="620"/><rect x="670.60" y="0" width="2.70" height="620"/><rect x="672.80" y="0" width="2.70" height="620"/><rect x="676.20" y="0" width="2.70" height="620"/><rect x="741.10" y="0" width="2.70" height="620"/><rect x="742.20" y="0" width="2.70" height="620"/><rect x="743.40" y="0" width="2.70" height="620"/><rect x="758.10" y="0" width="2.70" height="620"/><rect x="799.90" y="0" width="2.70" height="620"/><rect x="801.10" y="0" width="2.70" height="620"/><rect x="823.00" y="0" width="2.70" height="620"/><rect x="903.70" y="0" width="2.70" height="620"/><rect x="955.00" y="0" width="2.70" height="620"/><rect x="972.00" y="0" width="2.70" height="620"/><rect x="973.80" y="0" width="2.70" height="620"/><rect x="671" y="0" width="7.5" height="620"/><rect x="742" y="0" width="4.5" height="620"/><rect x="525" y="0" width="4.0" height="620"/></clipPath><polygon clip-path="url(#pk)" fill="#000" stroke="none" points="39.00,606.49 42.10,606.47 42.40,606.33 42.80,605.90 43.00,605.81 43.80,606.46 45.30,606.47 45.80,606.34 46.50,605.78 46.80,605.67 48.00,606.43 48.30,606.44 48.80,606.19 49.50,606.47 50.70,606.43 51.00,606.00 51.50,603.12 51.60,602.80 51.70,602.79 52.20,604.69 52.60,605.73 53.10,606.30 53.60,606.47 55.60,606.47 56.70,606.13 58.00,606.48 59.90,606.48 60.90,606.32 61.90,606.48 62.80,606.45 63.30,606.05 64.30,604.40 64.50,604.27 64.70,604.44 65.30,605.69 65.60,606.10 66.00,606.35 66.70,606.47 67.50,606.46 68.20,606.01 68.70,606.38 69.00,606.48 71.20,606.47 71.50,606.36 72.10,605.76 72.30,605.83 72.80,606.37 73.20,606.47 73.70,606.39 74.60,606.05 76.00,606.47 79.10,606.47 79.60,606.34 80.50,605.83 80.80,605.91 81.60,606.39 82.20,606.48 85.10,606.46 85.80,606.04 86.60,606.46 89.20,606.42 89.60,606.31 90.30,605.80 91.00,606.20 91.60,606.12 91.80,605.62 91.90,604.23 92.00,600.45 92.40,564.30 92.70,584.76 93.20,598.84 93.30,600.51 93.80,605.01 94.00,606.02 94.20,606.29 94.70,606.33 95.50,606.05 96.50,606.43 98.20,606.38 98.60,605.90 99.20,603.86 99.50,603.34 99.70,603.56 100.40,605.35 100.90,605.62 101.50,606.31 101.90,606.45 102.90,606.44 103.60,605.98 104.40,606.45 105.00,606.44 105.30,606.32 105.60,605.80 106.10,603.85 106.40,603.40 106.70,603.75 107.50,605.81 107.90,606.23 108.40,606.40 108.90,606.36 109.70,606.05 110.90,606.45 113.30,606.45 113.70,606.35 114.30,605.90 114.60,605.80 115.40,606.33 116.00,606.46 117.00,606.39 117.70,605.81 117.90,605.86 118.40,606.33 118.80,606.44 120.80,606.41 121.80,605.98 122.30,606.11 122.50,606.06 122.70,605.13 122.80,603.67 123.30,587.00 123.40,587.57 123.70,595.49 124.10,601.79 124.40,604.14 124.70,605.40 124.90,605.87 125.00,605.86 125.10,605.58 125.20,604.95 125.60,601.30 125.70,601.36 126.10,603.59 126.60,605.35 127.10,606.19 127.30,606.33 127.70,606.41 129.80,606.39 130.90,605.90 131.90,606.36 132.70,606.19 133.70,606.38 134.30,606.34 134.90,606.13 135.60,606.33 137.00,606.29 137.80,606.21 138.80,605.90 140.10,606.04 141.50,605.83 142.50,605.44 143.40,604.45 144.30,603.93 144.70,603.30 145.10,602.26 145.40,600.64 145.60,593.32 145.80,551.65 146.30,242.50 146.80,532.26 147.00,576.52 147.20,589.73 147.50,595.39 147.60,594.80 147.70,591.81 148.00,578.70 148.30,591.49 148.80,600.14 149.40,604.08 149.60,604.78 149.90,605.09 150.90,605.13 151.90,605.82 152.60,606.02 154.50,606.17 154.90,606.05 155.50,605.69 155.80,605.64 156.80,606.22 157.60,606.34 159.10,606.35 160.10,605.96 161.20,606.38 162.50,606.12 163.60,606.40 166.00,606.42 166.60,606.26 167.20,605.71 167.50,605.56 167.80,605.69 168.50,606.30 169.10,606.44 170.50,606.44 171.50,606.24 172.50,606.45 176.00,606.44 176.40,606.32 177.10,605.72 177.30,605.77 177.90,606.33 178.20,606.43 179.90,606.43 180.70,606.10 181.30,606.27 181.50,605.67 181.60,604.67 182.00,597.40 182.10,597.82 182.40,601.63 182.80,604.06 183.00,604.91 183.40,605.98 183.60,606.28 183.80,606.40 184.10,606.39 184.70,605.99 185.30,606.42 186.00,606.41 186.30,606.30 187.10,605.75 187.30,605.81 187.90,606.29 188.30,606.42 189.70,606.39 190.30,606.14 190.50,605.55 190.60,604.70 191.00,598.90 191.40,602.93 191.80,604.98 192.00,605.54 192.30,606.01 192.70,606.39 195.80,606.43 196.10,606.33 196.60,605.97 197.20,606.38 198.30,606.22 199.60,606.42 201.30,606.42 201.70,606.28 202.10,605.74 202.30,605.64 202.80,606.26 203.20,606.40 203.90,606.30 204.90,605.72 205.20,605.80 205.90,606.25 206.40,606.35 208.00,606.13 209.00,606.27 209.90,606.23 210.20,606.10 210.80,605.43 211.40,605.90 211.60,605.46 211.80,602.06 212.30,571.00 212.40,572.40 212.70,587.66 213.10,598.39 213.40,602.28 213.90,605.38 214.00,605.60 214.10,605.61 214.30,604.67 214.80,596.50 214.90,596.68 215.20,600.18 215.60,603.10 215.90,604.40 216.40,605.52 216.80,605.68 217.60,605.48 218.00,605.18 218.50,604.38 218.70,604.38 219.00,604.55 219.30,604.43 220.00,603.50 220.50,602.33 220.90,600.88 221.20,599.32 221.40,595.16 221.60,566.04 222.20,32.20 222.70,500.96 222.80,546.06 223.00,580.35 223.30,591.33 223.60,594.95 223.70,593.88 224.20,553.60 224.60,580.30 225.00,593.13 225.10,594.33 225.20,593.83 225.50,587.95 225.60,587.60 226.00,596.27 226.40,601.48 226.60,602.95 226.90,604.19 227.20,605.04 227.50,605.40 228.70,605.77 229.50,605.51 230.10,605.95 230.60,606.05 231.10,605.96 231.80,605.49 232.10,605.42 233.20,606.15 234.00,606.28 235.90,606.31 236.70,605.84 237.40,606.30 238.10,606.38 241.20,606.39 241.50,606.22 241.80,605.75 242.00,605.62 242.50,606.29 242.70,606.39 243.10,606.39 243.50,606.28 244.20,605.73 244.50,605.66 245.50,606.32 246.50,606.37 246.80,606.16 247.00,605.44 247.50,600.50 247.60,600.72 248.00,603.82 248.40,605.44 249.00,606.26 249.60,606.43 251.30,606.23 252.50,606.44 254.30,606.45 254.60,606.33 255.20,605.73 255.80,606.34 256.40,606.46 260.10,606.45 260.40,606.32 261.00,605.76 261.20,605.83 261.80,606.40 262.40,606.47 265.50,606.45 265.90,606.33 266.80,605.80 267.80,606.30 268.60,606.28 270.10,606.47 270.80,606.40 271.40,605.94 271.90,606.36 272.30,606.47 276.00,606.45 277.30,605.95 278.40,606.41 278.60,606.38 279.10,605.97 279.70,606.43 280.10,606.48 283.80,606.47 284.10,606.39 284.60,605.99 285.10,606.39 285.60,606.47 285.90,606.40 286.40,605.93 286.60,606.01 286.90,606.35 287.20,606.47 287.90,606.43 288.80,606.00 289.70,606.44 291.70,606.47 292.20,606.37 292.90,605.86 293.60,606.38 294.00,606.47 296.30,606.47 297.20,606.21 298.10,606.47 301.40,606.46 302.30,606.21 303.00,606.45 304.10,606.46 304.40,606.38 304.90,605.96 305.50,606.45 305.90,606.40 306.50,605.97 307.00,606.34 307.30,606.45 309.60,606.46 310.20,606.35 310.90,605.76 311.10,605.71 311.90,606.34 312.40,606.45 315.00,606.43 315.70,606.00 316.20,606.37 316.60,606.43 318.20,606.39 319.20,605.99 320.20,606.35 321.30,606.08 322.20,606.33 322.70,606.34 324.00,605.90 325.30,606.30 325.80,606.26 326.70,606.02 328.10,606.20 330.10,605.97 330.70,605.30 330.80,605.29 331.20,605.66 331.40,605.72 332.10,605.51 332.80,605.17 333.40,604.70 333.80,604.18 334.50,603.00 334.90,602.00 335.10,600.85 335.20,598.92 335.30,593.64 335.50,551.80 336.00,240.20 336.50,531.58 336.60,560.38 336.80,584.21 336.90,588.79 337.00,591.12 337.10,591.49 337.60,568.00 338.00,587.38 338.40,595.25 338.50,595.12 338.80,589.78 338.90,589.40 339.30,597.33 339.70,602.01 339.90,603.30 340.20,604.39 340.50,605.14 340.80,605.47 342.00,605.85 343.60,606.08 344.00,605.98 344.70,605.32 344.90,605.39 345.50,606.09 345.90,606.24 348.50,606.33 348.80,606.25 349.40,605.79 349.60,605.75 350.50,606.35 352.30,606.40 353.80,606.39 354.90,606.14 355.70,606.22 356.60,605.63 357.70,606.38 359.20,606.38 360.00,605.78 360.40,605.76 360.50,605.56 361.00,600.50 361.40,603.69 361.80,605.28 362.00,605.71 362.40,606.21 362.60,606.37 363.00,606.43 364.20,606.43 365.10,606.21 366.10,606.42 366.70,606.42 366.90,606.30 367.10,605.49 367.50,601.50 367.90,604.14 368.30,605.48 368.50,605.84 368.90,606.26 369.40,606.45 369.90,606.35 370.50,605.62 370.70,605.71 371.20,606.36 371.70,606.46 372.40,606.39 373.00,605.73 373.20,605.64 373.80,606.28 374.00,606.38 374.30,606.29 374.90,605.79 375.10,605.85 375.70,606.38 376.20,606.47 378.70,606.46 379.00,606.38 379.70,605.97 379.90,606.00 380.50,606.39 380.90,606.47 382.00,606.44 383.10,606.11 384.30,606.45 386.10,606.47 386.70,606.32 387.60,605.74 387.90,605.83 388.60,606.33 389.00,606.40 389.30,606.32 390.00,605.73 390.30,605.64 391.20,606.32 391.90,606.47 393.30,606.46 393.50,606.38 394.00,605.91 394.60,606.40 394.90,606.47 397.90,606.47 399.00,606.20 399.90,606.45 401.00,606.28 402.00,606.46 403.30,606.47 403.80,606.37 404.70,605.83 405.00,605.91 405.70,606.38 406.20,606.47 409.50,606.47 410.70,606.27 411.70,606.46 413.60,606.46 414.00,606.35 414.60,605.88 414.80,605.84 415.60,606.38 416.10,606.45 416.40,606.35 416.60,606.07 417.20,603.53 417.40,603.26 418.00,605.01 418.20,605.36 418.80,605.50 419.50,606.32 420.10,606.47 422.00,606.44 422.70,605.81 423.20,606.37 423.50,606.47 425.40,606.47 426.10,606.25 426.90,606.45 427.60,606.17 428.40,606.46 430.00,606.47 430.50,606.38 431.20,605.97 431.50,605.90 432.60,606.43 434.00,606.47 434.50,606.29 435.10,605.66 435.30,605.73 435.80,606.31 436.20,606.46 438.90,606.45 440.00,605.91 440.80,606.37 441.30,606.46 441.80,606.32 442.50,605.70 442.70,605.62 442.90,605.68 443.70,606.30 444.00,606.28 444.90,605.92 445.70,606.22 446.60,606.09 447.40,606.29 448.10,605.81 448.30,605.77 449.10,606.37 449.80,606.47 451.80,606.43 453.10,605.91 454.20,606.41 455.30,606.47 455.60,606.39 456.10,605.89 456.60,606.37 457.10,606.47 458.90,606.43 460.10,606.01 461.10,606.38 461.70,606.46 465.10,606.47 465.90,606.22 466.40,606.44 466.70,606.46 467.90,606.17 469.00,606.45 470.60,606.46 471.10,606.38 471.70,605.95 471.90,605.91 472.50,606.19 473.50,606.03 474.80,606.45 477.50,606.46 478.00,606.36 478.40,605.97 478.60,605.88 479.10,606.33 479.50,606.45 483.10,606.44 484.20,605.99 485.00,606.36 485.40,606.44 485.90,606.40 486.60,606.06 487.60,606.44 488.90,606.44 489.90,606.28 490.90,606.42 491.30,606.36 492.00,605.88 492.20,605.84 493.00,606.34 493.50,606.44 495.90,606.43 496.80,606.06 497.70,606.42 500.80,606.42 501.20,606.32 501.70,605.97 502.50,606.40 505.60,606.39 507.30,606.22 508.80,606.33 510.10,605.91 511.30,606.28 512.50,606.28 512.90,606.14 513.40,605.65 513.60,605.59 514.20,606.08 514.50,606.21 517.40,606.09 518.30,605.96 519.20,605.23 519.80,605.63 520.10,605.71 521.10,605.15 521.80,605.28 522.20,605.19 522.80,604.86 523.20,604.47 524.30,602.32 524.60,600.78 524.80,598.11 525.10,581.86 525.50,533.30 526.00,579.68 526.20,588.34 526.40,592.89 526.50,593.79 526.60,593.98 526.90,592.96 527.00,593.00 527.70,598.85 528.00,600.49 528.40,601.81 528.80,602.60 529.40,603.32 530.40,604.23 531.30,604.80 531.70,604.89 532.40,604.59 533.30,605.51 534.80,605.84 535.30,605.76 535.80,605.24 536.00,605.19 536.80,606.00 538.80,606.18 539.70,606.09 540.50,605.46 540.80,605.36 541.10,605.51 541.80,606.12 542.70,606.30 543.80,606.28 544.80,605.96 545.80,606.32 548.30,606.36 548.70,606.26 549.30,605.83 549.50,605.89 550.00,606.29 550.30,606.37 552.00,606.38 552.90,606.18 553.70,606.35 554.10,606.24 555.00,605.75 556.30,606.33 557.30,606.24 558.30,606.39 559.60,606.40 559.90,606.27 560.30,605.89 560.90,606.36 561.30,606.41 561.80,606.30 562.60,605.74 562.80,605.79 563.40,606.27 563.80,606.39 566.80,606.41 567.30,606.26 567.80,605.63 568.00,605.54 568.80,606.33 570.30,606.34 570.50,606.17 570.70,605.17 571.20,597.40 571.30,597.67 571.70,602.16 572.10,604.37 572.80,606.02 573.10,606.31 573.50,606.39 574.60,606.31 575.50,605.53 575.70,605.59 576.20,606.11 576.50,606.26 576.80,606.20 577.40,605.81 577.70,605.74 578.80,606.33 579.70,606.41 582.50,606.40 582.70,606.33 583.20,605.84 583.70,606.34 583.90,606.40 587.00,606.39 587.50,606.21 588.10,605.64 588.30,605.56 588.50,605.62 589.30,606.30 590.00,606.40 590.80,606.34 591.70,605.97 592.80,606.31 593.10,606.17 593.70,605.66 593.90,605.72 594.40,606.20 594.70,606.30 595.00,606.13 595.40,605.69 595.60,605.63 596.20,606.22 596.50,606.32 597.50,606.11 598.70,606.30 599.80,605.65 600.80,606.18 601.70,605.90 602.80,606.34 604.20,606.37 604.70,606.24 605.40,605.57 605.60,605.68 606.10,606.24 606.70,606.37 608.60,606.33 609.70,606.05 611.00,606.34 614.00,606.33 614.40,606.21 615.00,605.76 615.80,606.29 617.20,606.32 617.50,606.24 618.10,605.73 618.60,606.20 618.90,606.30 621.00,606.28 621.90,605.92 622.70,606.26 623.80,606.28 624.20,606.18 624.80,605.50 625.00,605.62 625.40,606.15 625.60,606.24 626.80,606.24 627.40,605.98 628.00,606.23 629.10,606.23 629.80,606.09 630.50,605.55 630.80,605.43 631.10,605.54 631.70,606.01 632.20,606.17 633.40,606.13 634.50,605.70 635.60,606.10 636.60,606.13 637.40,606.06 638.40,605.53 639.20,605.97 639.50,606.02 639.70,605.92 640.20,605.28 640.90,605.99 642.90,605.97 643.40,605.77 644.10,605.10 644.30,605.17 644.90,605.76 645.50,605.89 646.20,605.73 647.10,605.14 647.40,605.19 648.20,605.68 648.90,605.74 650.30,605.65 652.00,605.34 653.00,604.82 654.10,605.27 654.40,605.22 655.20,604.73 656.40,605.12 656.90,605.06 657.50,604.67 658.10,604.88 658.60,604.84 659.10,604.71 659.70,604.41 660.70,604.44 663.10,603.80 663.70,603.48 664.40,602.71 664.70,602.54 665.40,602.67 665.90,602.55 667.10,601.72 668.10,600.72 668.50,600.10 669.10,598.53 669.50,598.21 669.80,597.68 670.30,595.92 670.60,594.12 671.00,589.06 671.20,581.88 671.40,558.76 671.80,456.30 672.20,550.53 672.40,572.71 672.60,582.82 672.90,589.38 673.30,593.23 673.40,593.35 673.50,593.08 673.90,590.29 674.00,590.00 674.10,590.10 674.90,596.03 675.20,597.13 675.50,597.64 675.90,597.83 676.30,597.55 676.50,597.16 676.70,596.20 676.90,593.51 677.40,580.20 677.50,580.54 677.90,588.67 678.20,592.40 678.60,595.05 679.10,597.14 680.10,599.25 682.10,602.22 683.10,603.12 684.70,603.95 685.80,604.26 686.70,603.95 687.00,603.94 688.00,604.71 688.60,604.94 690.90,605.26 691.90,605.01 692.90,605.45 694.90,605.61 695.70,605.58 696.50,605.07 696.70,605.04 697.50,605.62 697.90,605.75 699.20,605.80 700.40,605.62 701.40,605.86 702.00,605.91 702.30,605.80 702.70,605.18 702.90,605.08 703.50,605.89 704.10,605.98 707.50,606.03 708.80,605.64 709.60,605.93 710.30,605.61 711.10,606.08 713.70,606.13 714.20,606.02 714.90,605.50 715.90,606.12 718.70,606.16 719.10,606.00 719.60,605.29 720.10,605.99 720.50,606.17 722.60,606.13 723.60,605.53 723.80,605.57 724.60,606.11 725.40,606.16 725.70,606.04 726.30,605.37 726.50,605.49 726.90,606.01 727.20,606.15 730.50,606.14 731.00,606.08 731.60,605.63 732.30,606.08 733.60,606.08 735.60,605.98 736.80,605.69 738.10,605.73 739.60,605.37 740.20,604.92 741.30,603.29 741.50,602.56 741.60,601.56 741.80,596.27 742.30,568.80 742.40,569.02 742.80,582.78 743.00,586.49 743.20,588.21 743.60,590.05 744.10,594.14 744.30,595.11 745.40,598.67 745.90,599.36 747.20,601.88 747.60,602.43 748.30,602.67 750.60,604.19 751.70,604.35 752.70,604.03 753.70,604.83 754.10,604.95 754.70,604.86 755.20,605.30 755.50,605.44 756.20,605.49 756.90,605.41 758.20,604.90 758.60,604.47 758.80,603.37 759.30,595.60 759.40,595.80 759.90,600.81 760.20,602.52 760.40,603.16 760.80,604.05 761.20,604.54 762.10,605.09 763.20,605.47 763.60,605.48 764.10,605.11 764.60,605.59 764.90,605.72 766.00,605.77 766.80,605.49 767.40,605.78 768.00,605.82 768.50,605.69 769.40,604.96 769.70,605.06 770.30,605.62 770.80,605.79 774.00,605.71 774.30,605.59 774.80,605.07 775.00,605.02 775.70,605.59 776.70,605.58 777.20,605.41 777.60,605.07 778.70,603.13 779.10,602.76 779.30,602.80 779.50,602.97 780.10,603.87 780.70,604.27 781.20,604.98 781.40,605.13 781.80,605.21 784.20,605.01 785.50,604.51 786.50,604.66 787.40,604.55 789.30,604.14 790.30,603.53 791.10,603.62 792.00,603.37 794.00,602.47 795.00,601.27 795.20,601.19 795.80,601.24 796.20,601.00 798.50,598.08 799.10,596.77 799.60,595.02 799.90,593.24 800.20,589.94 800.50,580.54 800.70,555.61 801.10,439.90 801.50,547.03 801.70,568.18 801.80,569.81 801.90,566.15 802.30,532.00 802.80,571.92 803.00,581.31 803.30,589.66 803.70,594.73 804.10,597.35 804.40,598.11 805.00,599.19 805.60,599.99 806.40,600.82 806.70,601.01 807.20,600.94 807.80,601.85 808.30,602.22 809.40,602.35 810.10,602.95 810.40,603.09 810.70,603.07 811.20,602.85 811.50,602.89 812.40,603.74 813.10,604.03 815.10,604.37 815.40,604.27 815.80,603.85 816.00,603.80 816.60,604.47 817.00,604.59 817.40,604.53 817.90,604.23 818.40,604.54 818.70,604.61 819.70,604.54 820.40,604.38 820.70,604.15 821.30,603.35 821.90,603.56 822.30,603.33 823.00,602.42 823.40,601.56 823.70,599.83 824.20,593.90 824.30,593.98 825.00,599.08 825.40,600.55 826.00,602.00 826.60,602.57 827.30,603.84 828.20,604.56 829.10,604.98 830.10,605.25 830.40,605.24 831.00,604.97 831.70,605.48 832.10,605.60 833.70,605.70 834.00,605.58 834.80,604.94 835.10,605.07 835.80,605.75 836.30,605.90 837.00,605.86 837.50,605.23 837.70,605.12 838.20,605.80 838.60,605.99 839.80,605.99 840.90,605.64 841.80,605.79 842.50,605.45 843.40,606.03 843.80,606.00 844.70,605.51 845.80,606.09 846.70,606.17 848.50,606.18 849.70,606.00 850.70,606.19 851.60,606.20 852.00,606.05 852.70,605.45 852.90,605.51 853.60,606.10 853.90,606.04 854.40,605.61 854.60,605.54 855.50,606.18 856.20,606.26 857.30,606.20 858.10,605.65 858.30,605.71 858.80,606.13 859.00,606.18 859.20,606.08 859.60,605.57 859.80,605.45 860.50,606.20 861.00,606.29 862.50,606.11 863.80,606.30 866.80,606.30 867.30,606.19 868.10,605.82 869.40,606.30 870.40,606.28 871.10,605.89 871.90,606.30 872.90,606.32 873.30,606.22 873.90,605.76 874.10,605.81 874.60,606.23 874.90,606.28 875.20,606.14 875.70,605.67 875.90,605.73 876.40,606.22 876.70,606.32 878.30,606.32 879.00,606.04 879.70,606.32 881.80,606.32 882.40,606.26 883.40,605.86 884.50,606.17 885.00,605.55 885.20,605.69 885.50,606.17 885.80,606.31 887.30,606.15 888.20,606.29 889.00,606.28 890.40,605.89 891.50,606.21 892.60,606.25 893.50,606.09 894.20,605.50 894.50,605.36 894.80,605.47 895.40,605.97 895.80,606.11 896.80,606.07 897.50,605.43 897.70,605.49 898.10,605.89 898.60,605.97 899.70,605.78 900.70,604.97 901.40,605.27 901.80,605.21 903.40,604.24 904.00,603.45 904.20,602.79 904.40,601.16 904.90,593.40 905.00,593.54 905.60,599.56 905.90,600.96 906.20,601.68 906.60,602.26 907.20,602.42 907.90,603.74 908.60,604.43 909.80,605.16 911.30,605.64 911.70,605.63 912.20,605.24 913.00,605.89 913.50,605.85 914.50,605.44 915.50,606.00 916.20,606.14 917.60,606.16 918.60,605.85 919.60,606.19 920.10,606.22 920.40,606.10 921.00,605.63 921.20,605.68 921.80,606.13 922.00,606.11 922.70,605.74 923.70,606.26 926.90,606.29 927.60,606.20 928.30,605.61 929.10,606.25 930.90,606.29 931.80,606.24 932.70,605.95 933.80,606.26 936.00,606.26 936.30,606.18 936.90,605.65 937.60,606.21 938.50,606.24 940.40,606.19 940.80,606.07 941.50,605.65 942.40,605.86 943.30,605.47 943.60,605.56 944.30,606.01 945.00,606.12 946.30,606.05 947.40,605.78 948.60,605.95 950.10,605.86 950.60,605.75 951.50,605.34 952.20,605.49 952.60,605.47 953.50,605.21 954.30,604.82 955.00,604.27 955.40,603.73 955.70,602.56 956.10,598.90 956.20,598.40 956.30,598.40 956.80,600.78 957.30,602.14 958.10,603.31 959.30,604.26 960.00,604.56 960.50,604.64 960.70,604.52 961.00,604.03 961.20,603.94 961.70,604.70 962.30,604.77 963.90,604.51 964.90,603.64 965.10,603.63 965.80,603.95 966.40,603.83 967.80,603.15 969.00,602.31 969.50,601.76 970.30,600.42 971.00,599.98 971.30,599.66 971.70,598.98 972.00,598.21 972.40,596.21 972.60,593.35 972.80,583.79 973.20,538.80 973.70,581.53 974.00,591.06 974.30,594.80 974.40,594.91 974.50,594.06 974.60,591.75 975.00,577.00 975.10,577.96 975.50,590.58 975.80,596.10 976.20,599.82 976.50,601.43 976.80,602.31 977.40,602.92 979.40,604.12 981.50,604.85 982.40,605.00 982.90,604.55 983.00,604.55 983.50,605.19 983.90,605.34 986.40,605.63 987.70,605.37 988.60,605.77 989.10,605.85 989.90,605.52 990.30,605.81 990.4,606.5 39,606.5"/><path d="M143.7,606.5 L145.6,599.5 L147.3,599.5 L149.3,606.5 Z" fill="#000" stroke="none"/><path d="M219.6,606.5 L221.5,599.5 L223.2,599.5 L225.2,606.5 Z" fill="#000" stroke="none"/><path d="M333.4,606.5 L335.3,599.5 L337.0,599.5 L339.0,606.5 Z" fill="#000" stroke="none"/></g>
<line x1="223.6" y1="75" x2="223.6" y2="94" stroke="#000" stroke-width="1.2"/>
<g stroke="#000" stroke-width="3" fill="none"><line x1="283.5" y1="45.9" x2="229.6" y2="83.5"/><line x1="624.9" y1="510.1" x2="596.6" y2="571.0"/><line x1="695.6" y1="509.2" x2="678.6" y2="572.7"/><line x1="751.4" y1="560.7" x2="758.4" y2="591.2"/></g>
<g fill="#000" stroke="#000" stroke-width="0.3">
<text transform="translate(195.1,25.3) scale(1.02,1)" font-size="16.0">1673.15</text>
<text transform="translate(123.1,235.0) scale(1.02,1)" font-size="16.0">1394.43</text>
<text transform="translate(310.7,226.8) scale(1.02,1)" font-size="16.0">2091.20</text>
<text transform="translate(501.4,523.0) scale(1.02,1)" font-size="16.0">2787.85</text>
<text transform="translate(546.9,590.1) scale(1.02,1)" font-size="16.0">2955.72</text>
<text transform="translate(643.4,448.1) scale(1.02,1)" font-size="16.0">3325.02</text>
<text transform="translate(679.8,505.9) scale(1.02,1)" font-size="16.0">3345.28</text>
<text transform="translate(732.2,557.7) scale(1.02,1)" font-size="16.0">3646.69</text>
<text transform="translate(776.9,431.8) scale(1.02,1)" font-size="16.0">3799.83</text>
<text transform="translate(947.1,534.1) scale(1.02,1)" font-size="16.0">4432.99</text>
<text transform="translate(274.2,33.8) scale(1.042,1)" font-size="24.0" fill="#000" stroke="#000">[M]</text>
<text transform="translate(309.4,26.8) scale(1.0,1)" font-size="15.8" fill="#000" stroke="#000">+5</text>
<text transform="translate(131.9,207.5) scale(1.042,1)" font-size="24.0" fill="#000" stroke="#000">[M]</text>
<text transform="translate(166.8,200.1) scale(1.0,1)" font-size="15.8" fill="#000" stroke="#000">+6</text>
<text transform="translate(318.6,202.1) scale(1.042,1)" font-size="24.0" fill="#000" stroke="#000">[M]</text>
<text transform="translate(353.5,194.2) scale(1.0,1)" font-size="15.8" fill="#000" stroke="#000">+4</text>
<text transform="translate(510.1,502.7) scale(1.042,1)" font-size="24.0" fill="#000" stroke="#000">[M]</text>
<text transform="translate(545.2,495.1) scale(1.0,1)" font-size="15.8" fill="#000" stroke="#000">+3</text>
<text transform="translate(601.7,503.4) scale(1.042,1)" font-size="24.0" fill="#1d7a33" stroke="#1d7a33">[Tr*]</text>
<text transform="translate(648.0,495.5) scale(1.0,1)" font-size="15.8" fill="#1d7a33" stroke="#1d7a33">+9</text>
<text transform="translate(652.7,423.6) scale(1.042,1)" font-size="24.0" fill="#1d7a33" stroke="#1d7a33">[Tr*]</text>
<text transform="translate(699.5,416.5) scale(1.0,1)" font-size="15.8" fill="#1d7a33" stroke="#1d7a33">+8</text>
<text transform="translate(682.9,482.5) scale(1.042,1)" font-size="24.0" fill="#45a6e0" stroke="#45a6e0">[D]</text>
<text transform="translate(713.9,473.9) scale(1.0,1)" font-size="15.8" fill="#45a6e0" stroke="#45a6e0">+5</text>
<text transform="translate(727.5,537.5) scale(1.042,1)" font-size="24.0" fill="#45a6e0" stroke="#45a6e0">[D*]</text>
<text transform="translate(767.9,529.2) scale(1.0,1)" font-size="15.8" fill="#45a6e0" stroke="#45a6e0">+5</text>
<text transform="translate(781.4,410.5) scale(1.042,1)" font-size="24.0" fill="#1d7a33" stroke="#1d7a33">[Tr*]</text>
<text transform="translate(828.8,403.1) scale(1.0,1)" font-size="15.8" fill="#1d7a33" stroke="#1d7a33">+7</text>
<text transform="translate(950.1,510.7) scale(1.042,1)" font-size="24.0" fill="#1d7a33" stroke="#1d7a33">[Tr*]</text>
<text transform="translate(995.5,503.6) scale(1.0,1)" font-size="15.8" fill="#1d7a33" stroke="#1d7a33">+6</text>
<text transform="translate(44.2,627.3) scale(1.02,1)" font-size="16" text-anchor="middle">1000</text>
<text transform="translate(147.8,627.3) scale(1.02,1)" font-size="16" text-anchor="middle">1400</text>
<text transform="translate(256.6,627.3) scale(1.02,1)" font-size="16" text-anchor="middle">1800</text>
<text transform="translate(365.4,627.3) scale(1.02,1)" font-size="16" text-anchor="middle">2200</text>
<text transform="translate(474.2,627.3) scale(1.02,1)" font-size="16" text-anchor="middle">2600</text>
<text transform="translate(583.0,627.3) scale(1.02,1)" font-size="16" text-anchor="middle">3000</text>
<text transform="translate(691.8,627.3) scale(1.02,1)" font-size="16" text-anchor="middle">3400</text>
<text transform="translate(800.6,627.3) scale(1.02,1)" font-size="16" text-anchor="middle">3800</text>
<text transform="translate(909.4,627.3) scale(1.02,1)" font-size="16" text-anchor="middle">4200</text>
<text x="995.3" y="612.2" font-size="9.3">m/z</text>
<text transform="translate(20.0,37.4) scale(0.95,1)" font-size="8.9" stroke-width="0.5">100</text>
<text transform="translate(29.7,611.7) scale(0.9,1)" font-size="9.4" stroke-width="0.5">0</text>
<text transform="translate(36.3,324.0) rotate(-90)" font-size="9.4">%</text>
</g>
</svg>
</body></html>
